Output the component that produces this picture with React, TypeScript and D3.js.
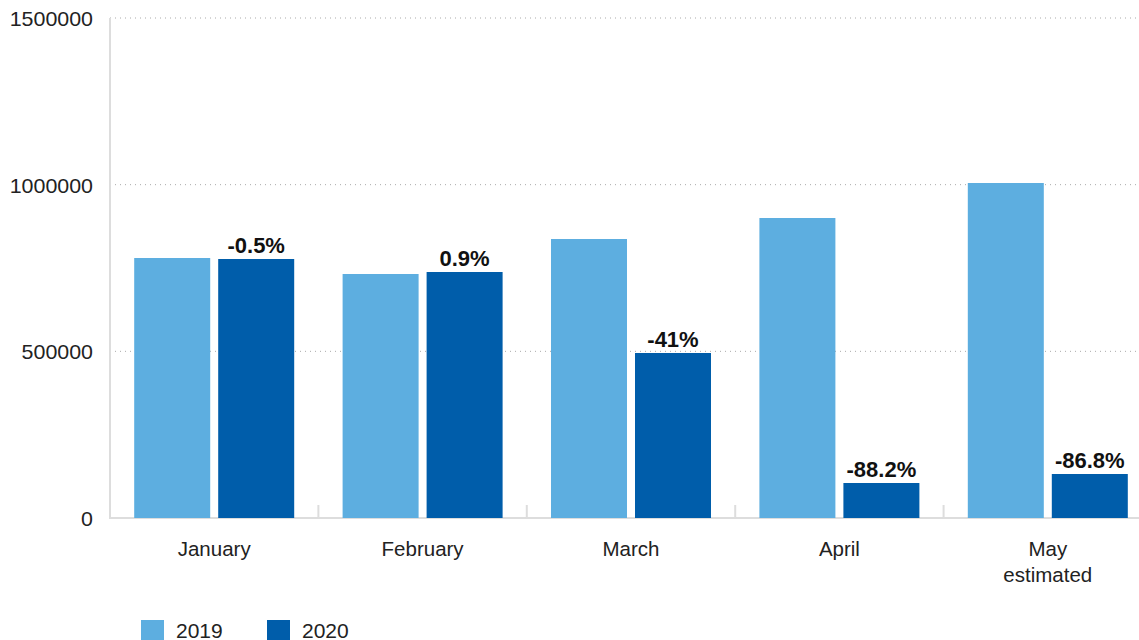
import React from "react";
import * as d3 from "d3";

const categories = ["January", "February", "March", "April", "May\nestimated"];
const series2019 = [780000, 732000, 837000, 900000, 1005000];
const series2020 = [777000, 738000, 495000, 105000, 132000];
const changeLabels = ["-0.5%", "0.9%", "-41%", "-88.2%", "-86.8%"];
const yTicks = [0, 500000, 1000000, 1500000];
const legendItems = ["2019", "2020"];

const W = 1139;
const H = 640;
const colors = ["#5DAEE0", "#005DAA"];

export default function App() {
  const left = 110;
  const right = 1152;
  const top = 18;
  const bottom = 518;
  const x = d3.scaleBand<number>().domain(d3.range(categories.length)).range([left, right]);
  const y = d3.scaleLinear().domain([0, 1500000]).range([bottom, top]);
  const bw = 76;
  const gap = 8;
  const font = "'Liberation Sans', Arial, Helvetica, sans-serif";
  return (
    <svg width={W} height={H} style={{ position: "absolute", left: 0, top: 0, fontFamily: font }}>
      {yTicks.filter((t) => t > 0).map((t) => (
        <line key={t} x1={left} x2={W} y1={y(t)} y2={y(t)} stroke="#aaa" strokeWidth={1} strokeDasharray="1,4" />
      ))}
      {yTicks.map((t) => (
        <text key={"l" + t} x={93} y={y(t) + 8} textAnchor="end" fontSize={21} fill="#222" textLength={String(t).length * 11.9} lengthAdjust="spacingAndGlyphs">{t}</text>
      ))}
      <line x1={left} x2={left} y1={top} y2={bottom + 1} stroke="#ddd" strokeWidth={2} />
      <line x1={left} x2={W} y1={bottom} y2={bottom} stroke="#ddd" strokeWidth={2} />
      {d3.range(1, categories.length).map((i) => (
        <line key={"t" + i} x1={x(i)!} x2={x(i)!} y1={bottom - 13} y2={bottom} stroke="#ddd" strokeWidth={2} />
      ))}
      {categories.map((c, i) => {
        const cx = x(i)! + x.bandwidth() / 2;
        const x1 = cx - gap / 2 - bw;
        const x2 = cx + gap / 2;
        return (
          <g key={c}>
            <rect x={x1} y={y(series2019[i])} width={bw} height={bottom - y(series2019[i])} fill={colors[0]} />
            <rect x={x2} y={y(series2020[i])} width={bw} height={bottom - y(series2020[i])} fill={colors[1]} />
            <text x={x2 + bw / 2} y={y(series2020[i]) - 6} textAnchor="middle" fontSize={22} fontWeight="bold" fill="#111">{changeLabels[i]}</text>
            {c.split("\n").map((line, k) => (
              <text key={k} x={cx} y={556 + k * 26} textAnchor="middle" fontSize={20.5} fill="#222">{line}</text>
            ))}
          </g>
        );
      })}
      {legendItems.map((l, i) => (
        <g key={l} transform={`translate(${141 + i * 126},620)`}>
          <rect x={0} y={0} width={23} height={20} fill={colors[i]} />
          <text x={35} y={18} fontSize={21} fill="#222">{l}</text>
        </g>
      ))}
    </svg>
  );
}
